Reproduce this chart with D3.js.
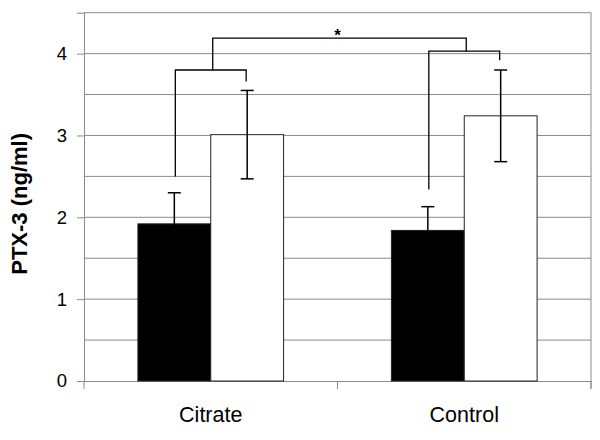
<!DOCTYPE html>
<html>
<head>
<meta charset="utf-8">
<script src="https://cdn.jsdelivr.net/npm/d3@7"></script>
<style>
  body { margin: 0; background: #fff; }
  svg { display: block; font-family: "Liberation Sans", Arial, sans-serif; }
</style>
</head>
<body>
<svg width="600" height="440"></svg>
<script>
// chart data
const categories = ["Citrate", "Control"];
const series = ["black", "white"];
const means = [[1.92, 3.01], [1.84, 3.24]];
const errors = [[0.38, 0.54], [0.29, 0.56]];
const yTicks = [0, 1, 2, 3, 4];
const yGrid = [0.5, 1, 1.5, 2, 2.5, 3, 3.5, 4, 4.5];
// bracket legs: [left bottom, right bottom, top] in ng/ml
const groupBrackets = [[2.50, 3.66, 3.80], [2.34, 3.92, 4.03]];
const topBracket = 4.19;
const starLabel = "*";

function main(){
  const svg = d3.select("svg");
  const W = 600, H = 440;
  const m = {left: 84, right: 9, top: 12.7, bottom: 59};
  const plotW = W - m.left - m.right;
  const plotH = H - m.top - m.bottom;

  const x0 = d3.scaleBand().domain(categories).range([m.left, m.left + plotW]).paddingInner(0).paddingOuter(0);
  const x1 = d3.scaleBand().domain(series).range([0, x0.bandwidth()]).paddingInner(0).paddingOuter(0.74);
  const y = d3.scaleLinear().domain([0, 4.5]).range([m.top + plotH, m.top]);

  // gridlines
  svg.append("g").selectAll("line").data(yGrid).enter().append("line")
    .attr("x1", m.left).attr("x2", m.left + plotW)
    .attr("y1", d => y(d)).attr("y2", d => y(d))
    .attr("stroke", "#8a8a8a").attr("stroke-width", 1);

  // right border
  svg.append("line").attr("x1", m.left + plotW).attr("x2", m.left + plotW)
    .attr("y1", m.top).attr("y2", y(0) + 8).attr("stroke", "#8a8a8a");

  // y axis
  const yAxis = d3.axisLeft(y).tickValues(yTicks).tickSize(7).tickPadding(10).tickFormat(d3.format("d"));
  const gy = svg.append("g").attr("transform", `translate(${m.left},0)`).call(yAxis);
  gy.select(".domain").attr("stroke", "#8a8a8a");
  gy.selectAll(".tick line").attr("stroke", "#8a8a8a");
  gy.selectAll(".tick text").attr("font-size", 18.5).attr("fill", "#000")
    .attr("font-family", "Liberation Sans, Arial, sans-serif");

  // x axis with ticks at category boundaries
  const xAxis = d3.axisBottom(x0).tickSize(0).tickPadding(26);
  const gx = svg.append("g").attr("transform", `translate(0,${y(0)})`).call(xAxis);
  gx.select(".domain").attr("stroke", "#8a8a8a");
  gx.selectAll(".tick text").attr("font-size", 21.5).attr("fill", "#000")
    .attr("font-family", "Liberation Sans, Arial, sans-serif");
  const bounds = [x0(categories[0]), x0(categories[1]), x0(categories[1]) + x0.bandwidth()];
  gx.selectAll(".bound").data(bounds).enter().append("line").attr("class", "bound")
    .attr("x1", d => d).attr("x2", d => d).attr("y1", 0).attr("y2", 8)
    .attr("stroke", "#8a8a8a");

  // bars
  const groups = svg.append("g").selectAll("g").data(categories).enter().append("g")
    .attr("transform", c => `translate(${x0(c)},0)`);

  groups.selectAll("rect").data((c, i) => series.map((s, j) => ({s, v: means[i][j]})))
    .enter().append("rect")
    .attr("x", d => x1(d.s)).attr("width", x1.bandwidth())
    .attr("y", d => y(d.v)).attr("height", d => y(0) - y(d.v))
    .attr("fill", d => d.s === "black" ? "#000" : "#fff")
    .attr("stroke", "#222").attr("stroke-width", 1);

  // error bars
  const eb = groups.selectAll(".err").data((c, i) => series.map((s, j) => ({s, v: means[i][j], e: errors[i][j]})))
    .enter().append("g").attr("class", "err")
    .attr("transform", d => `translate(${x1(d.s) + x1.bandwidth() / 2},0)`);
  eb.append("line").attr("x1", 0).attr("x2", 0)
    .attr("y1", d => y(d.v - d.e)).attr("y2", d => y(d.v + d.e))
    .attr("stroke", "#000").attr("stroke-width", 1.5);
  eb.append("line").attr("x1", -6.5).attr("x2", 6.5)
    .attr("y1", d => y(d.v + d.e)).attr("y2", d => y(d.v + d.e))
    .attr("stroke", "#000").attr("stroke-width", 1.5);
  eb.append("line").attr("x1", -6.5).attr("x2", 6.5)
    .attr("y1", d => y(d.v - d.e)).attr("y2", d => y(d.v - d.e))
    .attr("stroke", "#000").attr("stroke-width", 1.5);

  // significance brackets
  const bk = svg.append("g").attr("fill", "none").attr("stroke", "#000").attr("stroke-width", 1.3);
  const mids = [];
  categories.forEach((c, i) => {
    const xl = x0(c) + x1(series[0]) + x1.bandwidth() / 2 + 1;
    const xr = x0(c) + x1(series[1]) + x1.bandwidth() / 2 - 1;
    const [lb, rb, top] = groupBrackets[i];
    bk.append("path").attr("d", d3.line()([[xl, y(lb)], [xl, y(top)], [xr, y(top)], [xr, y(rb)]]));
    mids.push([x0(c) + x0.bandwidth() / 2 + 2, top]);
  });
  bk.append("path").attr("d", d3.line()([
    [mids[0][0], y(mids[0][1])], [mids[0][0], y(topBracket)],
    [mids[1][0], y(topBracket)], [mids[1][0], y(mids[1][1])]
  ]));
  svg.append("text").attr("x", (mids[0][0] + mids[1][0]) / 2 - 2).attr("y", y(topBracket) + 3)
    .attr("text-anchor", "middle").attr("font-size", 17).attr("font-weight", "bold").text(starLabel);

  // y title
  svg.append("text").attr("transform", `translate(27,${m.top + plotH / 2 + 7}) rotate(-90)`)
    .attr("text-anchor", "middle").attr("font-size", 22).attr("font-weight", "bold")
    .text("PTX-3 (ng/ml)");
}

main();
</script>
</body>
</html>
